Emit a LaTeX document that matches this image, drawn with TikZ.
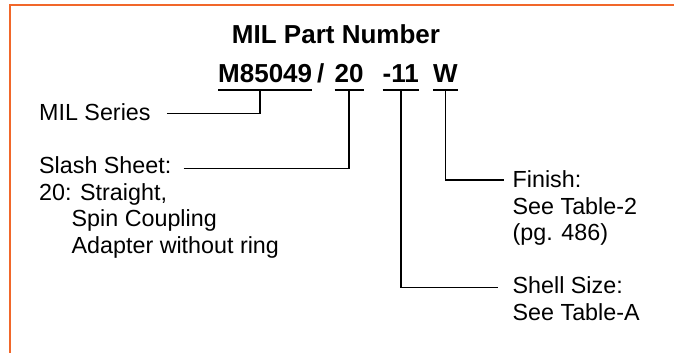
\documentclass[tikz,border=0pt]{standalone}
\usepackage{fontspec}
\setmainfont{Liberation Sans}
\definecolor{frameorange}{RGB}{241,103,42}
\begin{document}
\begin{tikzpicture}[x=1pt,y=-1pt,
  conn/.style={draw=black, line width=1.5pt},
  ttl/.style={font=\fontsize{26}{30}\selectfont\bfseries, inner sep=0pt, anchor=base},
  pn/.style={font=\fontsize{26}{30}\selectfont\bfseries, inner sep=0pt, anchor=base west},
  lbl/.style={font=\fontsize{23.3}{27}\selectfont, inner sep=0pt, anchor=base west},
  frame/.style={draw=frameorange, line width=2.6pt}]
\useasboundingbox (0,0) rectangle (674,353);
\draw[frame] (10,360) -- (10,5) -- (680,5);
% title and part number
\node[ttl] (title) at (336,43.3) {MIL Part Number};
\node[pn] (m) at (218,82) {M85049};
\node[pn] (sl) at (317,82) {/};
\node[pn] (n20) at (334.5,82) {20};
\node[pn] (n11) at (382.5,82) {-11};
\node[pn] (w) at (433,82) {W};
% underlines
\foreach \n in {m,n20,n11,w}{
  \draw[conn] ([yshift=-8pt]\n.base west) -- ([yshift=-8pt]\n.base east);
}
\coordinate (tm) at ([xshift=-5pt,yshift=-8pt]m.base);
\coordinate (t20) at ([yshift=-8pt]n20.base);
\coordinate (t11) at ([yshift=-8pt]n11.base);
\coordinate (tw) at ([yshift=-8pt]w.base);
% left labels
\node[lbl] (ser) at (39,120) {MIL Series};
\node[lbl] (sl1) at (39,173.5) {Slash Sheet:};
\node[lbl] (sl2) at (39,200.2) {20: Straight,};
\node[lbl] (sl3) at (71.5,226.9) {Spin Coupling};
\node[lbl] (sl4) at (71.5,253.6) {Adapter without ring};
% right labels
\node[lbl] (fi1) at (512.5,187) {Finish:};
\node[lbl] (fi2) at (512.5,214) {See Table-2};
\node[lbl] (fi3) at (512.5,240.7) {(pg. 486)};
\node[lbl] (sh1) at (512.5,293.3) {Shell Size:};
\node[lbl] (sh2) at (512.5,320) {See Table-A};
% connectors
\draw[conn] ([xshift=16pt,yshift=6.7pt]ser.base east) -| (tm);
\draw[conn] ([xshift=12pt,yshift=5pt]sl1.base east) -| (t20);
\draw[conn] ([xshift=-9pt,yshift=7pt]fi1.base west) -| (tw);
\draw[conn] ([xshift=-15pt,yshift=6pt]sh1.base west) -| (t11);
\end{tikzpicture}
\end{document}
